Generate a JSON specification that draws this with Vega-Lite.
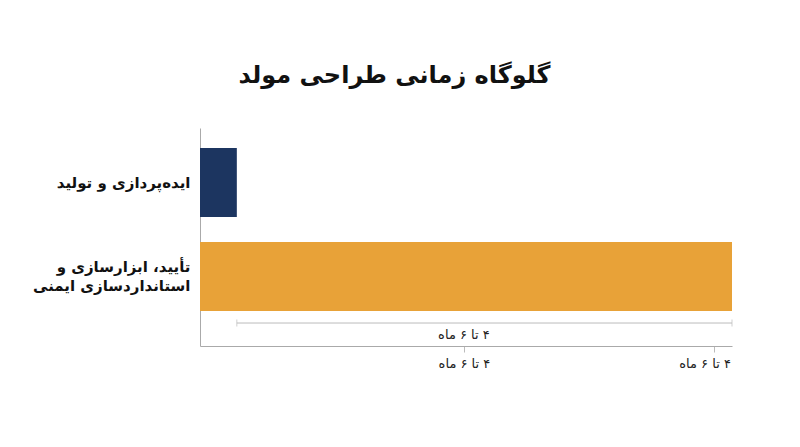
{
  "$schema": "https://vega.github.io/schema/vega-lite/v6.json",
  "width": 532,
  "height": 218,
  "autosize": "none",
  "padding": {"left": 200, "top": 128, "right": 68, "bottom": 101},
  "background": "white",
  "title": {
    "text": "گلوگاه زمانی طراحی مولد",
    "anchor": "middle",
    "frame": "bounds",
    "font": "DejaVu Sans",
    "fontSize": 24,
    "fontWeight": "bold",
    "color": "#111111",
    "offset": 40,
    "dx": 12
  },
  "datasets": {
    "phases": [
      {"phase": "ایده‌پردازی و تولید", "weeks": 1.8},
      {"phase": "تأیید، ابزارسازی و|استانداردسازی ایمنی", "weeks": 26}
    ],
    "span": [
      {"phase": "تأیید، ابزارسازی و|استانداردسازی ایمنی", "start": 1.8, "end": 26, "mid": 12.9, "label": "\u200f۴ تا ۶ ماه"}
    ]
  },
  "encoding": {
    "y": {
      "field": "phase",
      "type": "nominal",
      "sort": null,
      "title": null,
      "scale": {
        "domain": ["ایده‌پردازی و تولید", "تأیید، ابزارسازی و|استانداردسازی ایمنی"],
        "paddingInner": 0.266,
        "paddingOuter": 0.2926,
        "align": 0.364
      },
      "axis": {
        "labelExpr": "split(datum.label, '|')",
        "labelFont": "DejaVu Sans",
        "labelFontSize": 15,
        "labelFontWeight": "bold",
        "labelColor": "#111111",
        "labelLineHeight": 19,
        "labelPadding": 10,
        "labelLimit": 300,
        "labelOffset": {"condition": {"test": "indexof(datum.label, '|') >= 0", "value": -10}, "value": 0},
        "ticks": false,
        "domainColor": "#aaaaaa",
        "grid": false
      }
    }
  },
  "layer": [
    {
      "data": {"name": "phases"},
      "mark": {"type": "bar"},
      "encoding": {
        "x": {
          "field": "weeks",
          "type": "quantitative",
          "title": null,
          "scale": {"domain": [0, 26], "nice": false},
          "axis": {
            "values": [12.9, 25.1],
            "labelExpr": "'\u200f۴ تا ۶ ماه'",
            "labelFont": "DejaVu Sans",
            "labelFontSize": 13,
            "labelColor": "#222222",
            "labelPadding": 5,
            "labelOffset": {"condition": {"test": "datum.value > 20", "value": -9}, "value": 0},
            "tickSize": 6,
            "tickColor": "#bbbbbb",
            "domainColor": "#aaaaaa",
            "grid": false
          }
        },
        "color": {
          "field": "phase",
          "type": "nominal",
          "legend": null,
          "scale": {
            "domain": ["ایده‌پردازی و تولید", "تأیید، ابزارسازی و|استانداردسازی ایمنی"],
            "range": ["#1c3560", "#e8a238"]
          }
        }
      }
    },
    {
      "data": {"name": "span"},
      "mark": {"type": "rule", "color": "#bbbbbb", "strokeWidth": 1, "yOffset": 46.5},
      "encoding": {
        "x": {"field": "start", "type": "quantitative"},
        "x2": {"field": "end"}
      }
    },
    {
      "data": {"name": "span"},
      "transform": [{"fold": ["start", "end"], "as": ["end_name", "pos"]}],
      "mark": {"type": "tick", "color": "#bbbbbb", "size": 7, "thickness": 1, "yOffset": 46.5},
      "encoding": {
        "x": {"field": "pos", "type": "quantitative"}
      }
    },
    {
      "data": {"name": "span"},
      "mark": {"type": "text", "font": "DejaVu Sans", "fontSize": 13, "color": "#222222", "yOffset": 58.5},
      "encoding": {
        "x": {"field": "mid", "type": "quantitative"},
        "text": {"field": "label"}
      }
    }
  ],
  "config": {
    "view": {"stroke": null}
  }
}
